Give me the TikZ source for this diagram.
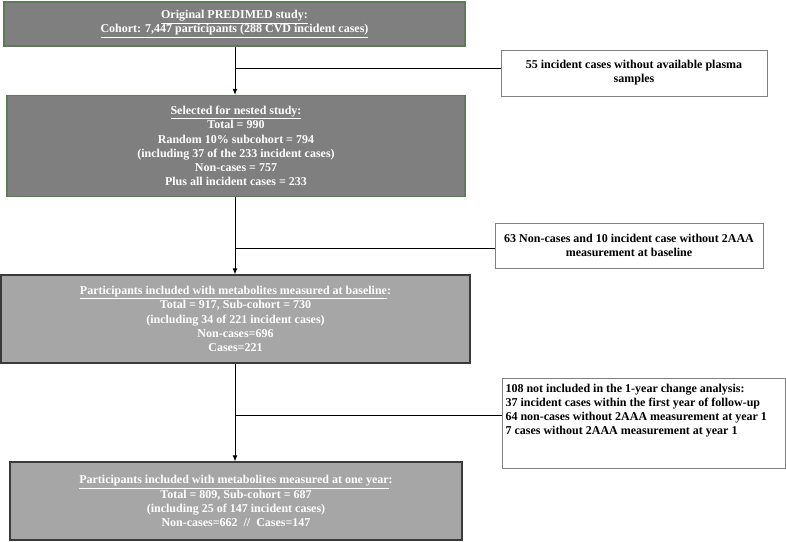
\documentclass[tikz,border=0pt]{standalone}
\usepackage{fontspec}
\setmainfont{Liberation Serif}
\usetikzlibrary{arrows.meta}
\definecolor{darkbox}{HTML}{7F7F7F}
\definecolor{darkedge}{HTML}{5E7A5A}
\definecolor{lightbox}{HTML}{A6A6A6}
\definecolor{lightedge}{HTML}{3A3A3A}
\tikzset{
	mainbox/.style={fill=darkbox, draw=darkedge, line width=1.3pt, inner sep=0pt, align=center, text=white, font=\fontsize{12}{14.2}\selectfont\bfseries},
	lightmain/.style={mainbox, fill=lightbox, draw=lightedge},
	sidebox/.style={fill=white, draw=gray, line width=1pt, inner sep=0pt, align=center, font=\fontsize{12}{14.2}\selectfont\bfseries},
	flow/.style={line width=0.9pt, -{Latex[length=6pt,width=5pt]}}
}
\begin{document}
\begin{tikzpicture}[x=1pt, y=-1pt]
	\useasboundingbox (0,0) rectangle (786,541);
	% main column
	\node[mainbox, minimum width=461pt, minimum height=44pt] (orig) at (234.5,24) {\underline{Original PREDIMED study:}\\\underline{Cohort: 7,447 participants (288 CVD incident cases)}};
	\node[mainbox, minimum width=458pt, minimum height=101pt] (sel) at (236,146) {\underline{Selected for nested study:}\\Total = 990\\Random 10\% subcohort = 794\\(including 37 of the 233 incident cases)\\Non-cases = 757\\Plus all incident cases = 233};
	\node[lightmain, minimum width=469pt, minimum height=88pt] (base) at (235.5,319) {\underline{Participants included with metabolites measured at baseline}:\\Total = 917, Sub-cohort = 730\\(including 34 of 221 incident cases)\\Non-cases=696\\Cases=221};
	\node[lightmain, minimum width=452pt, minimum height=78pt] (year) at (236,501) {\underline{Participants included with metabolites measured at one year}:\\Total = 809, Sub-cohort = 687\\(including 25 of 147 incident cases)\\Non-cases=662 \ // \ Cases=147};
	% exclusions
	\node[sidebox, minimum width=266pt, minimum height=46pt] (excl1) at (634,73) {55 incident cases without available plasma\\samples};
	\node[sidebox, minimum width=268pt, minimum height=45pt] (excl2) at (629,245.5) {63 Non-cases and 10 incident case without 2AAA\\measurement at baseline};
	\node[sidebox, minimum width=283pt, minimum height=90pt] (excl3) at (643.5,423) {\begin{minipage}[t][82pt][t]{276pt}\raggedright
		\vspace*{2pt}108 not included in the 1-year change analysis:\\
		37 incident cases within the first year of follow-up\\
		64 non-cases without 2AAA measurement at year 1\\
		7 cases without 2AAA measurement at year 1\end{minipage}};
	% flow
	\coordinate (b1) at (235,68);
	\coordinate (b2) at (235,248);
	\coordinate (b3) at (235,415);
	\draw[flow] (orig.south -| b1) -- (sel.north -| b1);
	\draw[flow] (sel.south -| b2) -- (base.north -| b2);
	\draw[flow] (base.south -| b3) -- (year.north -| b3);
	\draw[line width=0.9pt] (b1) -- (b1 -| excl1.west);
	\draw[line width=0.9pt] (b2) -- (b2 -| excl2.west);
	\draw[line width=0.9pt] (b3) -- (b3 -| excl3.west);
\end{tikzpicture}
\end{document}
